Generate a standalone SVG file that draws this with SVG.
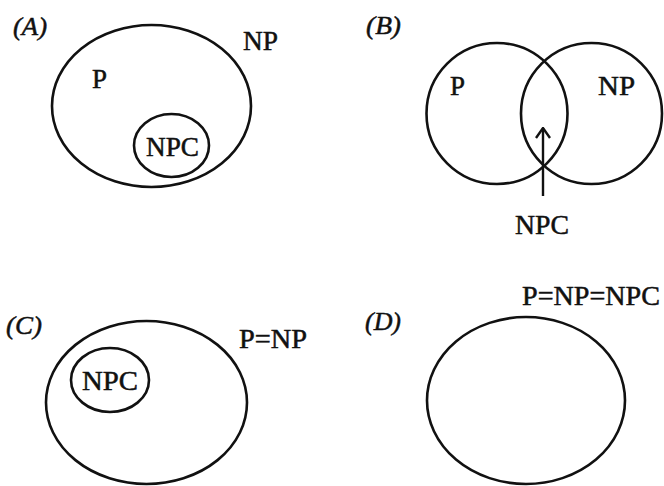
<svg xmlns="http://www.w3.org/2000/svg" width="664" height="486" viewBox="0 0 664 486">
  <defs>
    <style>
      .set { fill: none; stroke: #111; stroke-width: 2.6; }
      .lbl { font-family: "Liberation Serif", "Times New Roman", serif; font-size: 27px; fill: #111; stroke: #111; stroke-width: 0.5; }
      .tag { font-family: "Liberation Serif", "Times New Roman", serif; font-size: 26px; font-style: italic; fill: #111; stroke: #111; stroke-width: 0.5; }
    </style>
    <marker id="head" viewBox="0 0 12 16" refX="11" refY="8" markerWidth="12" markerHeight="16" markerUnits="userSpaceOnUse" orient="auto">
      <path d="M1 1 L11 8 L1 15" fill="none" stroke="#111" stroke-width="2.4"/>
    </marker>
  </defs>
  <rect width="664" height="486" fill="#fff"/>

  <!-- (A) NPC inside NP, P separate region -->
  <g id="panel-a">
    <text class="tag" x="13" y="35" textLength="34" lengthAdjust="spacingAndGlyphs">(A)</text>
    <ellipse id="a-np" class="set" cx="151.5" cy="106" rx="99.5" ry="81"/>
    <ellipse id="a-npc" class="set" cx="171.5" cy="145.5" rx="37.5" ry="31.5"/>
    <text class="lbl" x="243" y="50" textLength="35" lengthAdjust="spacingAndGlyphs">NP</text>
    <text class="lbl" x="92" y="88" textLength="15" lengthAdjust="spacingAndGlyphs">P</text>
    <text class="lbl" x="146" y="156" textLength="53" lengthAdjust="spacingAndGlyphs">NPC</text>
  </g>

  <!-- (B) overlapping P and NP -->
  <g id="panel-b">
    <text class="tag" x="366" y="34" textLength="35" lengthAdjust="spacingAndGlyphs">(B)</text>
    <circle id="b-p" class="set" cx="497" cy="113.5" r="70.5"/>
    <circle id="b-np" class="set" cx="591.5" cy="113.5" r="70.5"/>
    <text class="lbl" x="450" y="95" textLength="15" lengthAdjust="spacingAndGlyphs">P</text>
    <text class="lbl" x="598" y="95" textLength="37" lengthAdjust="spacingAndGlyphs">NP</text>
    <text class="lbl" x="515" y="234" textLength="54" lengthAdjust="spacingAndGlyphs">NPC</text>
  </g>

  <!-- (C) P = NP with NPC inside -->
  <g id="panel-c">
    <text class="tag" x="6" y="334" textLength="36" lengthAdjust="spacingAndGlyphs">(C)</text>
    <ellipse id="c-pnp" class="set" cx="146.5" cy="402.5" rx="100.5" ry="81.5"/>
    <ellipse id="c-npc" class="set" cx="110" cy="380" rx="39" ry="32"/>
    <text class="lbl" x="239" y="348" textLength="68" lengthAdjust="spacingAndGlyphs">P=NP</text>
    <text class="lbl" x="82" y="390" textLength="56" lengthAdjust="spacingAndGlyphs">NPC</text>
  </g>

  <!-- (D) all classes coincide -->
  <g id="panel-d">
    <text class="tag" x="365" y="330" textLength="36" lengthAdjust="spacingAndGlyphs">(D)</text>
    <ellipse id="d-all" class="set" cx="526" cy="400.5" rx="99" ry="83.5"/>
    <text class="lbl" x="522" y="305" textLength="138" lengthAdjust="spacingAndGlyphs">P=NP=NPC</text>
  </g>

  <g id="connectors">
    <line x1="543" y1="196" x2="543" y2="128" stroke="#111" stroke-width="2.4" marker-end="url(#head)"/>
  </g>
</svg>
